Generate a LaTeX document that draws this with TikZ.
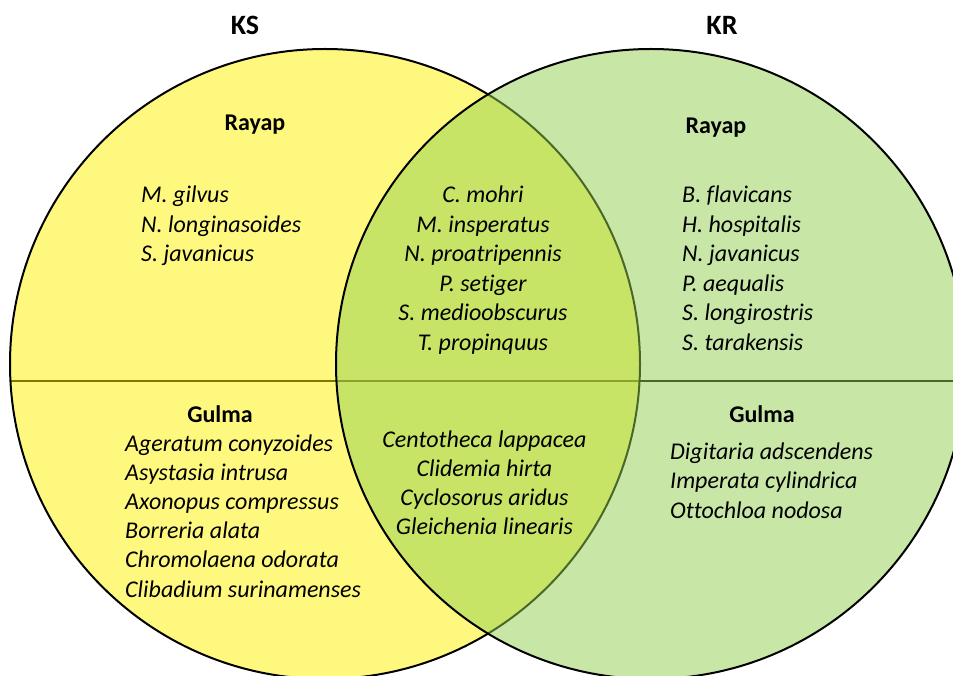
\documentclass[tikz,border=0pt]{standalone}
\usepackage{fontspec}
\setmainfont{Carlito}[Ligatures=NoCommon]
\begin{document}
\begin{tikzpicture}[x=1pt,y=-1pt,
  title/.style={font=\fontsize{28}{34}\selectfont\bfseries, inner sep=0pt},
  head/.style={font=\fontsize{24}{29}\selectfont\bfseries, inner sep=0pt},
  lst/.style={font=\fontsize{24}{29}\selectfont\itshape, inner sep=0pt},
  outline/.style={line width=2pt, draw=black},
  divider/.style={line width=2pt, draw=black}
]
\useasboundingbox (0,0) rectangle (953,676);
\clip (0,0) rectangle (953,676);
\coordinate (cL) at (325,364);
\coordinate (cR) at (651,364);
\coordinate (dL) at (10.4,381);
\coordinate (dR) at (966,381);
% divider line (under translucent fills)
\draw[divider] (dL) -- (dR);
% left circle
\fill[yellow, fill opacity=0.5] (cL) circle (315);
\draw[outline] (cL) circle (315);
% right circle
\definecolor{officegreen}{HTML}{92D050}
\fill[officegreen, fill opacity=0.5] (cR) circle (315);
\draw[outline] (cR) circle (315);
% titles
\node[title, anchor=base] (ks) at (245,35) {KS};
\node[title, anchor=base] (kr) at (722,35) {KR};
% headings
\node[head, anchor=base] (rayapL) at (255,131) {Rayap};
\node[head, anchor=base] (rayapR) at (716,134) {Rayap};
\node[head, anchor=base] (gulmaL) at (220,422) {Gulma};
\node[head, anchor=base] (gulmaR) at (762,422) {Gulma};
% left top list
\foreach \t [count=\i] in {M. gilvus, N. longinasoides, S. javanicus}
  \node[lst, anchor=base west] (lt\i) at (141,{203+(\i-1)*29.3}) {\t};
% middle top list
\foreach \t [count=\i] in {C. mohri, M. insperatus, N. proatripennis, P. setiger, S. medioobscurus, T. propinquus}
  \node[lst, anchor=base] (mt\i) at (483,{203+(\i-1)*29.4}) {\t};
% right top list
\foreach \t [count=\i] in {B. flavicans, H. hospitalis, N. javanicus, P. aequalis, S. longirostris, S. tarakensis}
  \node[lst, anchor=base west] (rt\i) at (682,{203+(\i-1)*29.4}) {\t};
% left bottom list
\foreach \t [count=\i] in {Ageratum conyzoides, Asystasia intrusa, Axonopus compressus, Borreria alata, Chromolaena odorata, Clibadium surinamenses}
  \node[lst, anchor=base west] (lb\i) at (125,{451+(\i-1)*29.2}) {\t};
% middle bottom list
\foreach \t [count=\i] in {Centotheca lappacea, Clidemia hirta, Cyclosorus aridus, Gleichenia linearis}
  \node[lst, anchor=base] (mb\i) at (484.5,{447+(\i-1)*29.1}) {\t};
% right bottom list
\foreach \t [count=\i] in {Digitaria adscendens, Imperata cylindrica, Ottochloa nodosa}
  \node[lst, anchor=base west] (rb\i) at (670,{459+(\i-1)*29.5}) {\t};
\end{tikzpicture}
\end{document}
